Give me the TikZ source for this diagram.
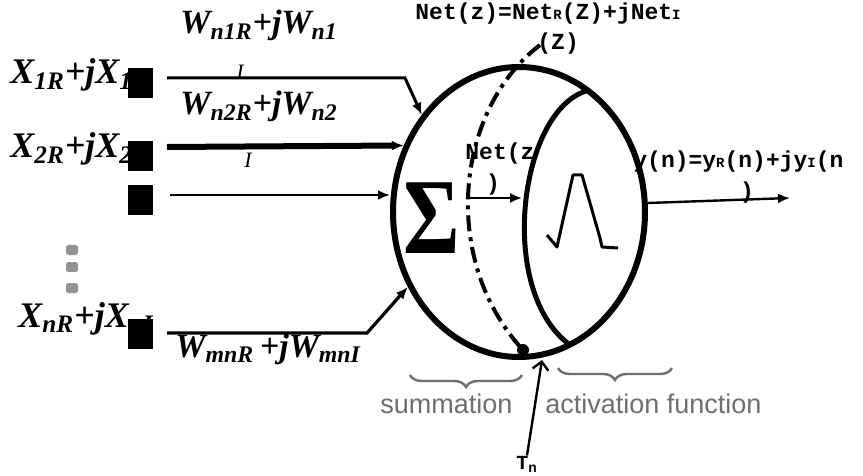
\documentclass[tikz,border=0pt]{standalone}
\usepackage{fontspec}
\setmainfont{Liberation Serif}
\setsansfont{Liberation Sans}
\setmonofont{Liberation Mono}
\usetikzlibrary{positioning,arrows.meta,shapes.geometric,decorations.pathreplacing}
\definecolor{NGray}{HTML}{6E6E6E}

\begin{document}
\begin{tikzpicture}[x=0.5pt, y=-0.5pt,
  wlabel/.style={font=\fontsize{17}{20}\selectfont\bfseries\itshape, inner sep=0pt},
  xlabel/.style={font=\fontsize{18}{20}\selectfont\bfseries\itshape, inner sep=0pt},
  ilabel/.style={font=\fontsize{11}{12}\selectfont\itshape, inner sep=0pt},
  netlabel/.style={font=\fontsize{11.5}{13}\selectfont\ttfamily\bfseries, inner sep=0pt},
  inbox/.style={fill=black, minimum width=12.5pt, minimum height=15pt, inner sep=0pt},
  caption/.style={font=\fontsize{13.5}{15}\selectfont\sffamily, text=NGray, inner sep=0pt},
  gbrace/.style={decorate, decoration={brace, amplitude=6pt}, draw=NGray, line width=1.2pt},
  arr/.style={-{Latex[length=6pt,width=5pt]}},
  ]
  \useasboundingbox (0,0) rectangle (863,476);

  % inputs
  \node[xlabel, anchor=base west] (x1lab) at (10,84) {X\textsubscript{1R}+jX\textsubscript{1I}};
  \node[xlabel, anchor=base west] (x2lab) at (10,158) {X\textsubscript{2R}+jX\textsubscript{2I}};
  \node[xlabel, anchor=base west] (xnlab) at (18,327) {X\textsubscript{nR}+jX\textsubscript{nI}};
  \node[inbox] (x1) at (140,83) {};
  \node[inbox] (x2) at (140,156) {};
  \node[inbox] (x3) at (140,200) {};
  \node[inbox] (xn) at (140,334) {};
  \foreach \yy/\nm in {250/a,267/b,288/c}
    \node[fill=gray!85, rounded corners=1.2pt, minimum width=6pt, minimum height=5pt, inner sep=0pt] (dot\nm) at (72,\yy) {};

  % weights
  \node[wlabel, anchor=base west] (w1) at (180,34) {W\textsubscript{n1R}+jW\textsubscript{n1}};
  \node[ilabel] (w1i) at (240,72) {I};
  \node[wlabel, anchor=base west] (w2) at (180,115) {W\textsubscript{n2R}+jW\textsubscript{n2}};
  \node[ilabel] (w2i) at (248,160) {I};
  \node[wlabel, anchor=base west] (wn) at (175,357) {W\textsubscript{mnR}\,+jW\textsubscript{mnI}};

  % neuron
  \node[draw, ellipse, line width=3pt, minimum width=126pt, minimum height=145pt, inner sep=0pt] (neuron) at (519,212) {};
  \draw[line width=2.5pt] (590,90) .. controls (520,105) and (495,290) .. (570,345);
  \draw[line width=2pt, dash pattern=on 8pt off 3pt on 2pt off 3pt] (540,45) .. controls (455,110) and (440,260) .. (523,350);
  \fill (523,350) circle (3pt);
  \node (sigma) at (432,218) {\scalebox{0.8}[1]{\fontsize{54}{54}\selectfont\bfseries Σ}};
  \draw[line width=1.5pt, line join=round] (547,235) -- (557,247) -- (573,175) -- (582,175) -- (600,238) -- (602,247) -- (618,248);

  % connectors
  \coordinate (in1) at (167,78);
  \coordinate (in2) at (167,147);
  \coordinate (in3) at (170,195);
  \coordinate (inn) at (167,333);
  \draw[arr, line width=1.5pt] (in1) -- (405,78) -- (neuron.135);
  \draw[arr, line width=3pt] (in2) -- (neuron.150);
  \draw[arr, line width=1.2pt] (in3) -- (in3 -| neuron.west);
  \draw[arr, line width=1.6pt] (inn) -- (367,333) -- (neuron.214);

  \node[netlabel, anchor=base west] (net) at (415,20) {Net(z)=Net{\fontsize{7}{8}\selectfont R}(Z)+jNet{\fontsize{7}{8}\selectfont I}};
  \node[netlabel, anchor=base west] (netz) at (537,50) {(Z)};
  \node[netlabel, anchor=base west] (netin) at (465,160) {Net(z};
  \node[netlabel] (netin2) at (493,185) {)};
  \coordinate (actin) at (522,198);
  \draw[arr, line width=1pt] (468,198) -- (actin);

  \coordinate (yout) at (790,198);
  \draw[arr, line width=1.2pt] (neuron.4) -- (yout);
  \node[netlabel, anchor=base west] (ylab) at (633,168) {y(n)=y{\fontsize{7}{8}\selectfont R}(n)+jy{\fontsize{7}{8}\selectfont I}(n};
  \node[netlabel] (ylab2) at (747,193) {)};

  % captions
  \draw[gbrace] (522,375) -- (410,375);
  \draw[gbrace] (672,368) -- (558,368);
  \node[caption, anchor=base west] (sumlab) at (380,413) {summation};
  \node[caption, anchor=base west] (actlab) at (545,413) {activation function};

  \node[font=\fontsize{10}{11}\selectfont\ttfamily\bfseries, inner sep=0pt] (tn) at (527,464) {T\textsubscript{n}};
  \coordinate (tnin) at (542,360);
  \draw[-{Straight Barb[length=4pt]}, line width=1.2pt] (tn.north) -- (tnin);
\end{tikzpicture}
\end{document}
